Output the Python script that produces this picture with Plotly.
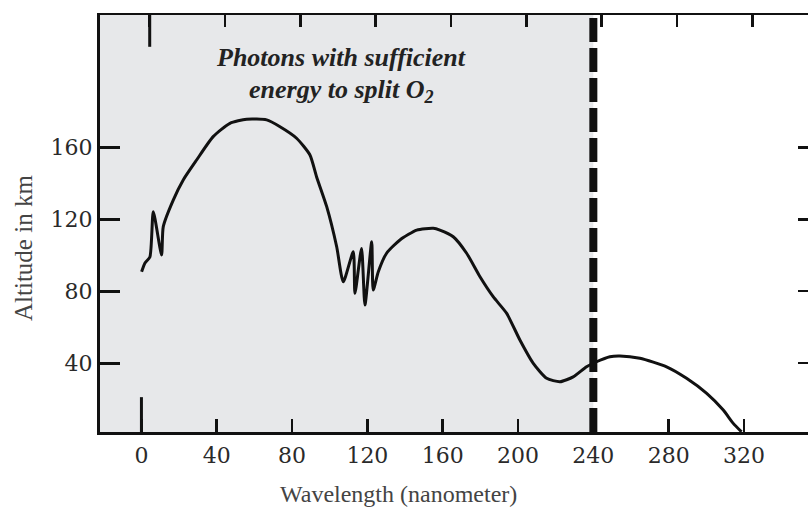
import plotly.graph_objects as go

# Data
wavelength_nm = [0.1, 1.9, 4.5, 6.3, 10.7, 11.6, 16.9, 22.2, 29.3, 38.1, 47.0, 55.9, 66.5, 73.6,
                 82.4, 89.5, 93.0, 98.4, 103.7, 107.2, 112.5, 113.4, 116.9, 118.7, 122.3, 123.1,
                 125.8, 130.2, 137.3, 146.2, 155.0, 158.5, 165.6, 172.7, 179.8, 186.8, 194.0,
                 201.0, 208.1, 215.2, 222.3, 229.3, 236.4, 241.7, 248.8, 254.1, 264.7, 278.9,
                 289.5, 300.2, 309.0, 314.3, 318.7]
altitude_km = [90.8, 95.7, 99.0, 124.2, 100.1, 115.9, 130.7, 141.9, 153.0, 166.0, 173.4, 175.7,
               175.3, 171.5, 165.1, 155.8, 143.7, 127.0, 104.7, 85.2, 101.9, 78.8, 103.8, 72.3,
               107.5, 80.6, 90.8, 101.1, 108.5, 114.0, 115.0, 114.0, 110.3, 101.1, 88.0, 76.9,
               67.6, 52.8, 39.8, 31.5, 29.6, 32.3, 37.9, 40.7, 43.5, 43.9, 42.6, 37.9, 31.5,
               23.1, 13.8, 6.4, 1.7]

x_ticks = [0, 40, 80, 120, 160, 200, 240, 280, 320]
y_ticks = [40, 80, 120, 160]
o2_threshold_nm = 240

X_RANGE = [-22.0, 354.0]
Y_RANGE = [1.6, 233.7]
TOP_SHIFT = 4.4

INK = "#111111"
LABEL = "#2a2a2a"

fig = go.Figure()
fig.add_trace(go.Scatter(
    x=wavelength_nm, y=altitude_km, mode="lines",
    line=dict(color=INK, width=3, shape="spline", smoothing=0.6),
    showlegend=False, hoverinfo="skip"))
fig.add_trace(go.Scatter(
    x=wavelength_nm, y=altitude_km, mode="lines", xaxis="x2", yaxis="y2",
    line=dict(color="rgba(0,0,0,0)", width=0), showlegend=False, hoverinfo="skip"))

fig.update_layout(
    width=808, height=507,
    margin=dict(l=100, r=0, t=15, b=75),
    paper_bgcolor="white", plot_bgcolor="white",
    showlegend=False,
    xaxis=dict(range=X_RANGE, tickvals=x_ticks, ticks="inside", ticklen=13, tickwidth=2.5,
               tickcolor=INK, showline=True, linewidth=3, linecolor=INK, showgrid=False,
               zeroline=False, tickfont=dict(family="DejaVu Serif", size=22, color=LABEL),
               ticklabelstandoff=2),
    xaxis2=dict(range=[X_RANGE[0] - TOP_SHIFT, X_RANGE[1] - TOP_SHIFT], overlaying="x",
                side="top", tickvals=x_ticks, ticks="inside", ticklen=12, tickwidth=2.5,
                tickcolor=INK, showline=True, linewidth=2.5, linecolor=INK,
                showticklabels=False, showgrid=False, zeroline=False),
    yaxis=dict(range=Y_RANGE, tickvals=y_ticks, ticks="inside", ticklen=20, tickwidth=3,
               tickcolor=INK, showline=True, linewidth=3, linecolor=INK, showgrid=False,
               zeroline=False, tickfont=dict(family="DejaVu Serif", size=22, color=LABEL),
               ticklabelstandoff=0),
    yaxis2=dict(range=Y_RANGE, overlaying="y", side="right", tickvals=y_ticks,
                ticks="inside", ticklen=10, tickwidth=2.5, tickcolor=INK, showline=False,
                showticklabels=False, showgrid=False, zeroline=False),
)

# shaded region of photons able to split O2
fig.add_shape(type="rect", xref="x", yref="y domain", x0=X_RANGE[0], x1=o2_threshold_nm,
              y0=0, y1=1, fillcolor="#e7e8ea", line=dict(width=0), layer="below")
# dashed threshold line
fig.add_shape(type="line", xref="x", yref="y domain", x0=o2_threshold_nm, x1=o2_threshold_nm,
              y0=0, y1=1, line=dict(color=INK, width=8, dash="24px,6px"), layer="above")
# long ticks at 0 nm
fig.add_shape(type="line", xref="x", yref="y", x0=0, x1=0, y0=Y_RANGE[0], y1=21,
              line=dict(color=INK, width=3))
fig.add_shape(type="line", xref="x2", yref="y", x0=0, x1=0, y0=Y_RANGE[1], y1=216,
              line=dict(color=INK, width=3))

serif = "Liberation Serif"
fig.add_annotation(xref="x", yref="paper", x=106, y=(432 - 57) / 417.0, yanchor="middle",
                   text="<b><i>Photons with sufficient</i></b>", showarrow=False,
                   font=dict(family=serif, size=26, color="#222222"))
fig.add_annotation(xref="x", yref="paper", x=106, y=(432 - 91) / 417.0, yanchor="middle",
                   text="<b><i>energy to split O<sub>2</sub></i></b>", showarrow=False,
                   font=dict(family=serif, size=26, color="#222222"))
fig.add_annotation(xref="paper", yref="paper", x=(398 - 100) / 708.0, y=(432 - 494) / 417.0,
                   yanchor="middle", text="Wavelength (nanometer)", showarrow=False,
                   font=dict(family=serif, size=24, color="#444444"))
fig.add_annotation(xref="paper", yref="paper", x=(23 - 100) / 708.0, y=(432 - 248) / 417.0,
                   xanchor="center", yanchor="middle", textangle=-90, text="Altitude in km",
                   showarrow=False, font=dict(family=serif, size=25, color="#444444"))

fig.write_html("out.html", config={"displayModeBar": False, "staticPlot": True},
               post_script="document.body.style.margin='0px';document.body.style.overflow='hidden';")
